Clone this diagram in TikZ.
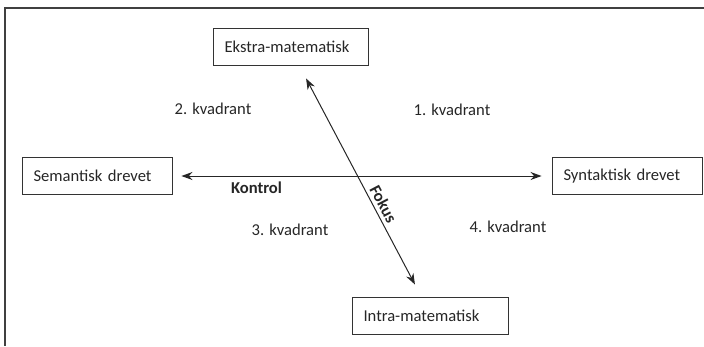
\documentclass[tikz,border=0pt]{standalone}
\usepackage{fontspec}
\setmainfont{Carlito}
\usepackage{tikz}
\usetikzlibrary{arrows.meta}

\begin{document}
\begin{tikzpicture}[x=1pt, y=-1pt,
    font=\fontsize{16.6}{20}\selectfont,
    boks/.style={draw=black!80, line width=0.9pt, minimum height=37pt,
      inner xsep=11.5pt, align=left, text=black!85},
    pil/.style={{Stealth[length=11pt,width=8pt]}-{Stealth[length=11pt,width=8pt]},
      line width=1pt, black!85},
    kvad/.style={text=black!85}
  ]
    \useasboundingbox (0,0) rectangle (704,346);
    % ramme
    \draw[black!75, line width=1.2pt] (704,8) -- (5,8) -- (5,346);

    \node[boks, text width=132pt] (ekstra) at (290.5,46.5) {Ekstra-matematisk};
    \node[boks, text width=127pt] (semantisk) at (97,176) {Semantisk drevet};
    \node[boks, text width=127pt] (syntaktisk) at (627,176) {Syntaktisk drevet};
    \node[boks, text width=133pt] (intra) at (430,315.5) {Intra-matematisk};

    \draw[pil, shorten <=9pt, shorten >=10pt] (semantisk) -- (syntaktisk);
    \draw[pil, shorten <=14.7pt, shorten >=13.6pt]
      ([xshift=8.7pt]ekstra.south) -- ([xshift=-8.7pt]intra.north)
      node[pos=0.62, sloped, above, font=\fontsize{16.6}{20}\selectfont\bfseries] (fokus) {Fokus};

    \node[kvad] (kv2) at (213,109) {2. kvadrant};
    \node[kvad] (kv1) at (452,110) {1. kvadrant};
    \node[kvad] (kv3) at (290,230) {3. kvadrant};
    \node[kvad] (kv4) at (508,227) {4. kvadrant};
    \node[kvad, font=\fontsize{16.6}{20}\selectfont\bfseries] (kontrol) at (256.5,188) {Kontrol};
\end{tikzpicture}
\end{document}
